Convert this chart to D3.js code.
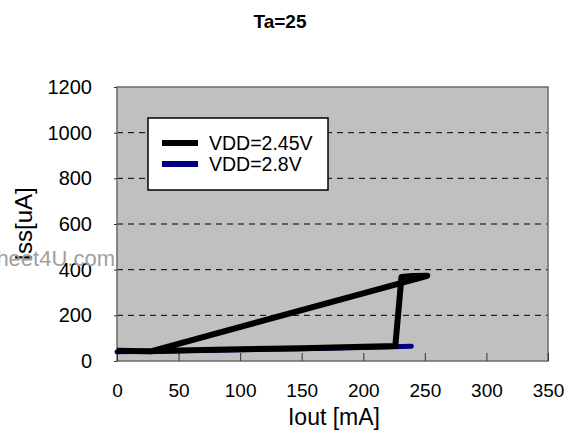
<!DOCTYPE html>
<html>
<head>
<meta charset="utf-8">
<script src="https://cdn.jsdelivr.net/npm/d3@7"></script>
<style>
  body { margin: 0; background: #fff; }
  text { font-family: "Liberation Sans", Arial, sans-serif; }
</style>
</head>
<body>
<div id="chart-area"></div>
<script>
// Data
const xTicks = [0, 50, 100, 150, 200, 250, 300, 350];
const yTicks = [0, 200, 400, 600, 800, 1000, 1200];
const seriesNames = ['VDD=2.45V', 'VDD=2.8V'];
const seriesColors = ['#000000', '#000080'];

// VDD=2.45V : hysteresis loop (up sweep, jump, back down the diagonal)
const iout245 = [0, 24, 60, 100, 150, 200, 226, 231, 240, 252, 26];
const iss245 = [45, 43, 47, 51, 56, 62, 66, 368, 372, 373, 40];

// VDD=2.8V
const iout28 = [0, 50, 100, 150, 200, 239];
const iss28 = [40, 45, 49, 54, 59, 65];

// Margin
const margin = { left: 117, right: 16, top: 87, bottom: 81 };
const width = 564 - margin.left - margin.right;
const height = 442 - margin.top - margin.bottom;

const svg = d3.select('#chart-area')
    .append('svg')
    .attr('width', 564)
    .attr('height', 442);

const g = svg.append('g')
    .attr('transform', 'translate(' + margin.left + ', ' + margin.top + ')');

// Scales
const x = d3.scaleLinear()
    .domain([0, 350])
    .range([0, width]);

const y = d3.scaleLinear()
    .domain([0, 1200])
    .range([height, 0]);

// Title
svg.append('text')
    .attr('x', 280)
    .attr('y', 28)
    .attr('text-anchor', 'middle')
    .attr('font-size', '19px')
    .attr('font-weight', 'bold')
    .text('Ta=25');

// Plot background
g.append('rect')
    .attr('width', width)
    .attr('height', height)
    .attr('fill', '#c0c0c0');

// Dashed gridlines
g.selectAll('.grid')
    .data(yTicks.filter((d) => d > 0 && d < 1200))
    .enter()
    .append('line')
    .attr('class', 'grid')
    .attr('x1', 0)
    .attr('x2', width)
    .attr('y1', (d) => y(d))
    .attr('y2', (d) => y(d))
    .attr('stroke', '#000')
    .attr('stroke-width', 1)
    .attr('stroke-dasharray', '6,5');

// Frame
g.append('rect')
    .attr('width', width)
    .attr('height', height)
    .attr('fill', 'none')
    .attr('stroke', '#6a6a6a')
    .attr('stroke-width', 1.5);

// X axis (ticks inside)
const xAxisCall = d3.axisBottom(x)
    .tickValues(xTicks)
    .tickFormat(d3.format('d'))
    .tickSizeInner(-8)
    .tickSizeOuter(0)
    .tickPadding(23);
const xAxis = g.append('g')
    .attr('class', 'x-axis')
    .attr('transform', 'translate(0, ' + height + ')')
    .call(xAxisCall);
xAxis.select('.domain').remove();
xAxis.selectAll('line').attr('stroke', '#333');
xAxis.selectAll('text')
    .attr('font-size', '19px')
    .attr('fill', '#000');

// Y axis (ticks outside)
const yAxisCall = d3.axisLeft(y)
    .tickValues(yTicks)
    .tickFormat(d3.format('d'))
    .tickSizeInner(3)
    .tickSizeOuter(0)
    .tickPadding(22);
const yAxis = g.append('g')
    .attr('class', 'y-axis')
    .call(yAxisCall);
yAxis.select('.domain').remove();
yAxis.selectAll('line').attr('stroke', '#333');
yAxis.selectAll('text')
    .attr('font-size', '20px')
    .attr('fill', '#000');

// Axis labels
svg.append('text')
    .attr('x', 334)
    .attr('y', 425)
    .attr('text-anchor', 'middle')
    .attr('font-size', '23px')
    .text('Iout [mA]');

svg.append('text')
    .attr('x', -224)
    .attr('y', 32)
    .attr('text-anchor', 'middle')
    .attr('font-size', '24px')
    .attr('transform', 'rotate(-90)')
    .text('Iss[uA]');

// Watermark
svg.append('text')
    .attr('x', 115)
    .attr('y', 266)
    .attr('text-anchor', 'end')
    .attr('font-size', '22px')
    .attr('fill', '#a0a0a0')
    .text('www.DataSheet4U.com');

// Lines
const line = d3.line()
    .x((d) => x(d[0]))
    .y((d) => y(d[1]));

const data28 = iout28.map((d, i) => [d, iss28[i]]);
const data245 = iout245.map((d, i) => [d, iss245[i]]);

g.append('path')
    .datum(data28)
    .attr('d', line)
    .attr('fill', 'none')
    .attr('stroke', seriesColors[1])
    .attr('stroke-width', 5)
    .attr('stroke-linecap', 'round')
    .attr('stroke-linejoin', 'round');

g.append('path')
    .datum(data245)
    .attr('d', line)
    .attr('fill', 'none')
    .attr('stroke', seriesColors[0])
    .attr('stroke-width', 6)
    .attr('stroke-linejoin', 'round');

// Legend
const legend = svg.append('g')
    .attr('transform', 'translate(148, 118)');

legend.append('rect')
    .attr('width', 180)
    .attr('height', 72)
    .attr('fill', '#fff')
    .attr('stroke', '#000')
    .attr('stroke-width', 1.5);

seriesNames.forEach((name, i) => {
    legend.append('line')
        .attr('x1', 14)
        .attr('x2', 50)
        .attr('y1', 25 + i * 21)
        .attr('y2', 25 + i * 21)
        .attr('stroke', seriesColors[i])
        .attr('stroke-width', 6);
    legend.append('text')
        .attr('x', 61)
        .attr('y', 32 + i * 21)
        .attr('font-size', '19.5px')
        .text(name);
});
</script>
</body>
</html>
